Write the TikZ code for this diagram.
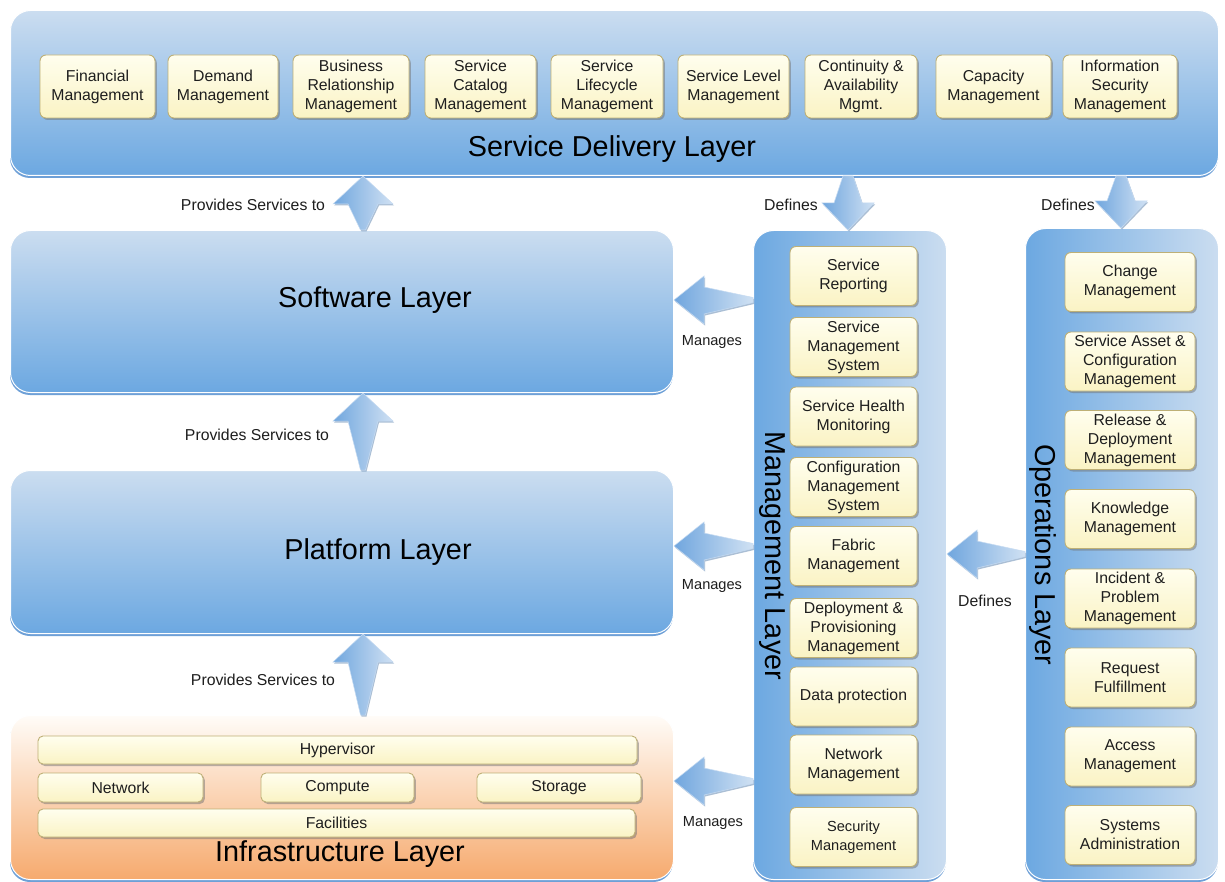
\documentclass[tikz,border=0pt]{standalone}
\usepackage{fontspec}
\setmainfont{Liberation Sans}
\usetikzlibrary{shadows,calc}
\definecolor{lyTop}{RGB}{203,221,240}
\definecolor{lyBot}{RGB}{108,168,225}
\definecolor{lyEdge}{RGB}{110,160,215}
\definecolor{infTop}{RGB}{255,252,248}
\definecolor{infBot}{RGB}{246,170,110}
\definecolor{ybTop}{RGB}{255,254,238}
\definecolor{ybBot}{RGB}{250,243,196}
\definecolor{ybEdge}{RGB}{190,176,118}
\definecolor{arDark}{RGB}{112,166,222}
\definecolor{arLight}{RGB}{208,225,243}
\definecolor{txt}{RGB}{30,30,30}
\tikzset{
 layerbox/.style={anchor=north west, rounded corners=20pt, draw=white, line width=1pt,
   top color=lyTop, bottom color=lyBot,
   drop shadow={shadow xshift=-0.5pt, shadow yshift=-2.5pt, fill=lyEdge, opacity=1}},
 vlayerbox/.style={layerbox, left color=lyBot, right color=lyTop},
 infbox/.style={layerbox, top color=infTop, bottom color=infBot},
 ybox/.style={rounded corners=6pt, draw=ybEdge, line width=0.9pt, top color=ybTop, bottom color=ybBot,
   align=center, text=txt, font=\fontsize{15.8}{19}\selectfont, inner sep=1pt,
   drop shadow={shadow xshift=1.8pt, shadow yshift=-2pt, fill=black!55, opacity=0.5}},
 bar/.style={ybox, rounded corners=5pt},
 titletxt/.style={font=\fontsize{28.8}{32}\selectfont, text=black},
 lbl/.style={font=\fontsize{15.8}{18}\selectfont, text=txt},
 mlbl/.style={font=\fontsize{14.6}{17}\selectfont, text=txt},
 blk/.style={left color=arDark, right color=arLight, draw=white!60!arDark, line width=0.5pt,
   drop shadow={shadow xshift=1pt, shadow yshift=-1.5pt, fill=lyEdge!80!black, opacity=0.5}}
}
\newcommand\blkup[3]{\path[blk] let \p1=(#2 -| #3,0), \p2=(#1 -| #3,0) in
  (\x1,\y1) -- (\x1+30pt,\y1-28pt) -- (\x1+15pt,\y1-28pt) -- (\x2+2.5pt,\y2) -- (\x2-2.5pt,\y2)
  -- (\x1-15pt,\y1-28pt) -- (\x1-30pt,\y1-28pt) -- cycle;}
\newcommand\blkdown[3]{\path[blk] let \p1=(#1 -| #3,0), \p2=(#2 -| #3,0) in
  (\x1-5pt,\y1) -- (\x1+5pt,\y1) -- (\x2+14pt,\y2+27pt) -- (\x2+26pt,\y2+27pt) -- (\x2,\y2)
  -- (\x2-26pt,\y2+27pt) -- (\x2-14pt,\y2+27pt) -- cycle;}
\newcommand\blkleft[3]{\path[blk] let \p1=(#1 |- 0,#3), \p2=(#2 |- 0,#3) in
  (\x2,\y2) -- (\x2+30pt,\y2+24pt) -- (\x2+30pt,\y2+13pt) -- (\x1,\y1+2.5pt) -- (\x1,\y1-2.5pt)
  -- (\x2+30pt,\y2-14pt) -- (\x2+30pt,\y2-24pt) -- cycle;}
\begin{document}
\begin{tikzpicture}[x=1pt,y=-1pt]
\fill[white] (0,0) rectangle (1225,882);
\useasboundingbox (0,0) rectangle (1225,882);
% layers
\node[layerbox, minimum width=1208pt, minimum height=165pt] (sd) at (10,10) {};
\node[layerbox, minimum width=663pt, minimum height=162pt] (soft) at (10,230) {};
\node[layerbox, minimum width=663pt, minimum height=163pt] (plat) at (10,470) {};
\node[infbox, minimum width=663pt, minimum height=164pt] (infra) at (10,715) {};
\node[vlayerbox, minimum width=193pt, minimum height=649pt] (mgmt) at (753,230) {};
\node[vlayerbox, minimum width=193pt, minimum height=651pt] (ops) at (1025,228) {};
% titles
\node[titletxt] (sdT) at (612,149) {Service Delivery Layer};
\node[titletxt] (softT) at (375,300) {Software Layer};
\node[titletxt] (platT) at (378,552) {Platform Layer};
\node[titletxt] (infraT) at (340,854) {Infrastructure Layer};
\node[titletxt, rotate=-90] (mgmtT) at (772,556) {Management Layer};
\node[titletxt, rotate=-90] (opsT) at (1043,555) {Operations Layer};
% service delivery boxes
\begin{scope}[every node/.append style={minimum height=63pt}]
\node[ybox, minimum width=115pt] (fin) at (97.5,86.5) {Financial\\Management};
\node[ybox, minimum width=110pt] (dem) at (223,86.5) {Demand\\Management};
\node[ybox, minimum width=116pt] (brm) at (351,86.5) {Business\\Relationship\\Management};
\node[ybox, minimum width=111pt] (scm) at (480.5,86.5) {Service\\Catalog\\Management};
\node[ybox, minimum width=112pt] (slc) at (607,86.5) {Service\\Lifecycle\\Management};
\node[ybox, minimum width=111pt] (slm) at (733.5,86.5) {Service Level\\Management};
\node[ybox, minimum width=112pt] (cam) at (861,86.5) {Continuity \&\\Availability\\Mgmt.};
\node[ybox, minimum width=115pt] (cap) at (993.5,86.5) {Capacity\\Management};
\node[ybox, minimum width=114pt] (ism) at (1120,86.5) {Information\\Security\\Management};
\end{scope}
% management boxes
\begin{scope}[every node/.append style={minimum width=127pt, minimum height=59pt}]
\node[ybox] (m1) at (853.5,276) {Service\\Reporting};
\node[ybox] (m2) at (853.5,347) {Service\\Management\\System};
\node[ybox] (m3) at (853.5,416.5) {Service Health\\Monitoring};
\node[ybox] (m4) at (853.5,487) {Configuration\\Management\\System};
\node[ybox] (m5) at (853.5,556) {Fabric\\Management};
\node[ybox] (m6) at (853.5,628) {Deployment \&\\Provisioning\\Management};
\node[ybox] (m7) at (853.5,696.5) {Data protection};
\node[ybox] (m8) at (853.5,764.5) {Network\\Management};
\node[ybox, font=\fontsize{14.6}{19}\selectfont] (m9) at (853.5,837) {Security\\Management};
\end{scope}
% operations boxes
\begin{scope}[every node/.append style={minimum width=130pt, minimum height=59pt}]
\node[ybox] (o1) at (1130,282) {Change\\Management};
\node[ybox] (o2) at (1130,361.5) {Service Asset \&\\Configuration\\Management};
\node[ybox] (o3) at (1130,440) {Release \&\\Deployment\\Management};
\node[ybox] (o4) at (1130,519) {Knowledge\\Management};
\node[ybox] (o5) at (1130,598.5) {Incident \&\\Problem\\Management};
\node[ybox] (o6) at (1130,677.5) {Request\\Fulfillment};
\node[ybox] (o7) at (1130,756.5) {Access\\Management};
\node[ybox] (o8) at (1130,835) {Systems\\Administration};
\end{scope}
% infrastructure bars
\node[bar, minimum width=599pt, minimum height=28pt] (hyp) at (337.5,750) {Hypervisor};
\node[bar, minimum width=165pt, minimum height=29pt] (net) at (120.5,787.5) {Network};
\node[bar, minimum width=153pt, minimum height=29pt] (cmp) at (337.5,787.5) {Compute};
\node[bar, minimum width=164pt, minimum height=29pt] (sto) at (559,787.5) {Storage};
\node[bar, minimum width=597pt, minimum height=28pt] (fac) at (336.5,823) {Facilities};
% block arrows
\blkup{soft.north}{sd.south}{363}
\blkup{plat.north}{soft.south}{363}
\blkup{infra.north}{plat.south}{363}
\blkdown{sd.south}{mgmt.north}{848}
\blkdown{sd.south}{ops.north}{1121}
\blkleft{mgmt.west}{soft.east}{300}
\blkleft{mgmt.west}{plat.east}{546}
\blkleft{mgmt.west}{infra.east}{781}
\blkleft{ops.west}{mgmt.east}{554}
% labels
\node[lbl] (l1) at (253,205) {Provides Services to};
\node[lbl] (l2) at (257,435) {Provides Services to};
\node[lbl] (l3) at (263,680) {Provides Services to};
\node[lbl] (d1) at (791,205) {Defines};
\node[lbl] (d2) at (1068,205) {Defines};
\node[lbl] (d3) at (985,601) {Defines};
\node[mlbl] (g1) at (712,342) {Manages};
\node[mlbl] (g2) at (712,586) {Manages};
\node[mlbl] (g3) at (713,823) {Manages};
\end{tikzpicture}
\end{document}
